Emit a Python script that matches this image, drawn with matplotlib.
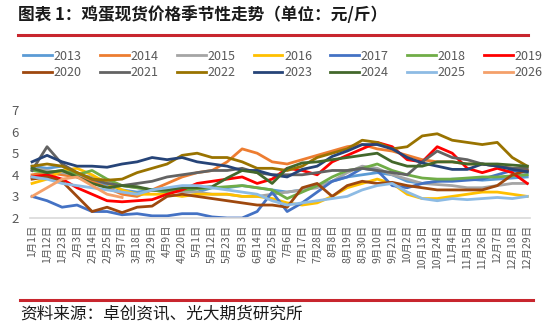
import numpy as np
import matplotlib
matplotlib.use("Agg")
import matplotlib.pyplot as plt
from matplotlib.lines import Line2D

plt.rcParams['font.family'] = ['Noto Sans CJK SC', 'DejaVu Sans']

# ---- data: prices sampled on the tick dates (every 11 days, leap-year calendar) ----
tick_labels = ["1月1日", "1月12日", "1月23日", "2月3日", "2月14日", "2月25日", "3月7日",
               "3月18日", "3月29日", "4月9日", "4月20日", "5月1日", "5月12日", "5月23日",
               "6月3日", "6月14日", "6月25日", "7月6日", "7月17日", "7月28日", "8月8日",
               "8月19日", "8月30日", "9月10日", "9月21日", "10月2日", "10月13日", "10月24日",
               "11月4日", "11月15日", "11月26日", "12月7日", "12月18日", "12月29日"]
days = [0, 11, 22, 33, 44, 55, 66, 77, 88, 99, 110, 121, 132, 143, 154, 165, 176,
        187, 198, 209, 220, 231, 242, 253, 264, 275, 286, 297, 308, 319, 330, 341, 352, 363]

years = ["2013", "2014", "2015", "2016", "2017", "2018", "2019",
         "2020", "2021", "2022", "2023", "2024", "2025", "2026"]

p2013 = [4.4, 4.3, 4.4, 4.0, 3.7, 3.5, 3.3, 3.2, 3.3, 3.2, 3.3, 3.2, 3.4, 3.4, 3.5, 3.4, 3.3,
         3.2, 3.3, 3.5, 3.7, 3.9, 4.0, 4.1, 4.0, 3.7, 3.6, 3.7, 3.8, 3.8, 3.75, 3.8, 3.85, 3.9]
p2014 = [4.0, 4.1, 4.0, 3.9, 3.7, 3.4, 3.1, 3.0, 3.3, 3.6, 3.9, 4.1, 4.2, 4.6, 5.2, 5.0, 4.6,
         4.5, 4.7, 4.9, 5.1, 5.3, 5.4, 5.2, 5.1, 4.9, 4.7, 4.6, 4.6, 4.5, 4.5, 4.4, 4.3, 4.2]
p2015 = [4.3, 4.2, 4.1, 4.0, 3.9, 3.7, 3.5, 3.4, 3.3, 3.3, 3.2, 3.2, 3.1, 3.1, 3.0, 3.0, 3.1,
         3.2, 3.3, 3.4, 3.7, 4.1, 4.4, 4.3, 4.0, 3.8, 3.6, 3.55, 3.5, 3.4, 3.4, 3.5, 3.6, 3.6]
p2016 = [3.6, 3.8, 4.2, 4.3, 4.0, 3.6, 3.3, 3.1, 3.1, 3.1, 3.0, 3.1, 3.1, 3.1, 3.0, 3.0, 2.9,
         2.7, 2.6, 2.7, 3.0, 3.4, 3.6, 3.8, 3.6, 3.1, 2.9, 2.9, 3.0, 3.1, 3.2, 3.2, 3.1, 3.0]
p2017 = [3.0, 2.8, 2.5, 2.6, 2.3, 2.3, 2.15, 2.2, 2.1, 2.1, 2.2, 2.2, 2.05, 2.0, 2.0, 2.3, 3.2,
         2.3, 2.7, 3.2, 3.7, 3.9, 4.3, 4.2, 3.5, 3.4, 3.6, 3.7, 3.7, 3.75, 3.8, 4.0, 4.2, 4.1]
p2018 = [4.2, 4.1, 4.2, 4.0, 4.2, 3.8, 3.5, 3.4, 3.3, 3.2, 3.3, 3.35, 3.4, 3.45, 3.5, 3.4, 3.3,
         2.9, 3.2, 3.5, 3.9, 4.2, 4.3, 4.5, 4.2, 4.0, 3.85, 3.8, 3.8, 3.85, 3.9, 3.9, 3.95, 4.0]
p2019 = [3.9, 4.0, 3.8, 3.4, 3.1, 2.8, 2.75, 2.8, 2.85, 3.1, 3.3, 3.6, 3.7, 3.8, 3.9, 3.6, 3.8,
         4.3, 4.2, 4.0, 4.6, 4.9, 5.2, 5.5, 5.3, 4.7, 4.6, 5.3, 5.0, 4.3, 4.1, 4.3, 4.1, 3.6]
p2020 = [3.8, 3.9, 3.7, 3.0, 2.3, 2.5, 2.25, 2.5, 2.55, 3.0, 3.1, 3.0, 2.9, 2.8, 2.7, 2.6, 2.6,
         2.5, 3.4, 3.6, 3.0, 3.5, 3.7, 3.6, 3.65, 3.5, 3.4, 3.3, 3.3, 3.3, 3.3, 3.5, 4.0, 4.2]
p2021 = [4.2, 5.3, 4.5, 4.1, 3.8, 3.6, 3.5, 3.6, 3.7, 3.9, 4.0, 4.1, 4.2, 4.2, 4.3, 4.1, 4.0,
         4.0, 4.0, 4.1, 4.2, 4.2, 4.3, 4.2, 4.1, 4.0, 4.6, 5.1, 4.8, 4.7, 4.5, 4.4, 4.3, 4.3]
p2022 = [4.4, 4.5, 4.4, 4.1, 3.8, 3.75, 3.8, 4.1, 4.3, 4.5, 4.9, 5.0, 4.8, 4.8, 4.6, 4.3, 4.3,
         4.2, 4.4, 4.8, 5.0, 5.2, 5.6, 5.5, 5.2, 5.3, 5.8, 5.9, 5.6, 5.5, 5.4, 5.5, 4.8, 4.4]
p2023 = [4.6, 4.9, 4.6, 4.4, 4.4, 4.35, 4.5, 4.6, 4.8, 4.7, 4.8, 4.6, 4.5, 4.4, 4.2, 4.2, 4.0,
         3.9, 4.25, 4.4, 4.85, 5.1, 5.4, 5.4, 5.2, 4.8, 4.55, 4.4, 4.25, 4.25, 4.5, 4.4, 4.25, 4.15]
p2024 = [4.3, 4.1, 4.2, 3.9, 3.6, 3.4, 3.5, 3.45, 3.3, 3.3, 3.4, 3.4, 3.45, 3.85, 4.2, 4.1, 3.6,
         4.3, 4.55, 4.6, 4.7, 4.8, 4.9, 5.0, 4.6, 4.4, 4.4, 4.6, 4.6, 4.5, 4.5, 4.5, 4.45, 4.4]
p2025 = [3.9, 3.8, 3.6, 3.5, 3.4, 3.3, 3.2, 3.1, 3.3, 3.4, 3.5, 3.5, 3.4, 3.3, 3.2, 3.1, 2.8,
         2.6, 2.7, 2.8, 2.9, 3.0, 3.3, 3.5, 3.6, 3.2, 2.9, 2.8, 2.9, 2.85, 2.9, 2.95, 2.9, 3.0]
p2026 = [3.0, 3.4, 3.8, 3.9, 3.5, 3.1, 2.95]

series = [p2013, p2014, p2015, p2016, p2017, p2018, p2019,
          p2020, p2021, p2022, p2023, p2024, p2025, p2026]
colors = ["#5B9BD5", "#ED7D31", "#A5A5A5", "#FFC000", "#4472C4", "#70AD47", "#FF0000",
          "#9E480E", "#636363", "#997300", "#264478", "#43682B", "#8DBBE4", "#F4A06A"]

# ---- figure ----
fig = plt.figure(figsize=(5.5, 3.27), dpi=100)
W, H = 550, 327
ax = fig.add_axes([30 / W, 1 - 218 / H, 500 / W, 108 / H])

handles = []
for vals, c, yr in zip(series, colors, years):
    ln, = ax.plot(days[:len(vals)], vals, color=c, lw=2.0, label=yr, solid_joinstyle='round')
    handles.append(ln)

ax.set_xlim(-1.5, 365)
ax.set_ylim(2, 7)
ax.set_yticks([2, 3, 4, 5, 6, 7])
ax.set_xticks(days)
ax.set_xticklabels(tick_labels, rotation=90, fontsize=7.5, color="#595959")
ax.tick_params(axis='y', labelsize=9.5, colors="#595959", length=0, pad=8)
ax.tick_params(axis='x', length=0, pad=5)
for s in ['top', 'right', 'left']:
    ax.spines[s].set_visible(False)
ax.spines['bottom'].set_color("#D9D9D9")
ax.spines['bottom'].set_linewidth(1.2)

# legend fills column by column, so interleave the two rows
order = [i + r * 7 for i in range(7) for r in range(2)]
fig.legend([handles[i] for i in order], [years[i] for i in order],
           loc='center left', bbox_to_anchor=(12 / W, 1 - 64.5 / H), ncol=7,
           frameon=False, fontsize=9, handlelength=2.3, handletextpad=0.15,
           columnspacing=1.45, labelspacing=0.3, labelcolor="#595959")

# title, rules and source
fig.text(18 / W, 1 - 15 / H, "图表 1：鸡蛋现货价格季节性走势（单位：元/斤）",
         fontsize=12, fontweight='bold', va='center', ha='left', color="#1A1A1A")
fig.add_artist(Line2D([18 / W, 528 / W], [1 - 35 / H] * 2, color="#C8262E", lw=2.2))
fig.add_artist(Line2D([20 / W, 533 / W], [1 - 300 / H] * 2, color="#C8262E", lw=2.2))
fig.text(20 / W, 1 - 314 / H, "资料来源：卓创资讯、光大期货研究所",
         fontsize=12, va='center', ha='left', color="#1A1A1A")

fig.savefig("out.png", dpi=100)
